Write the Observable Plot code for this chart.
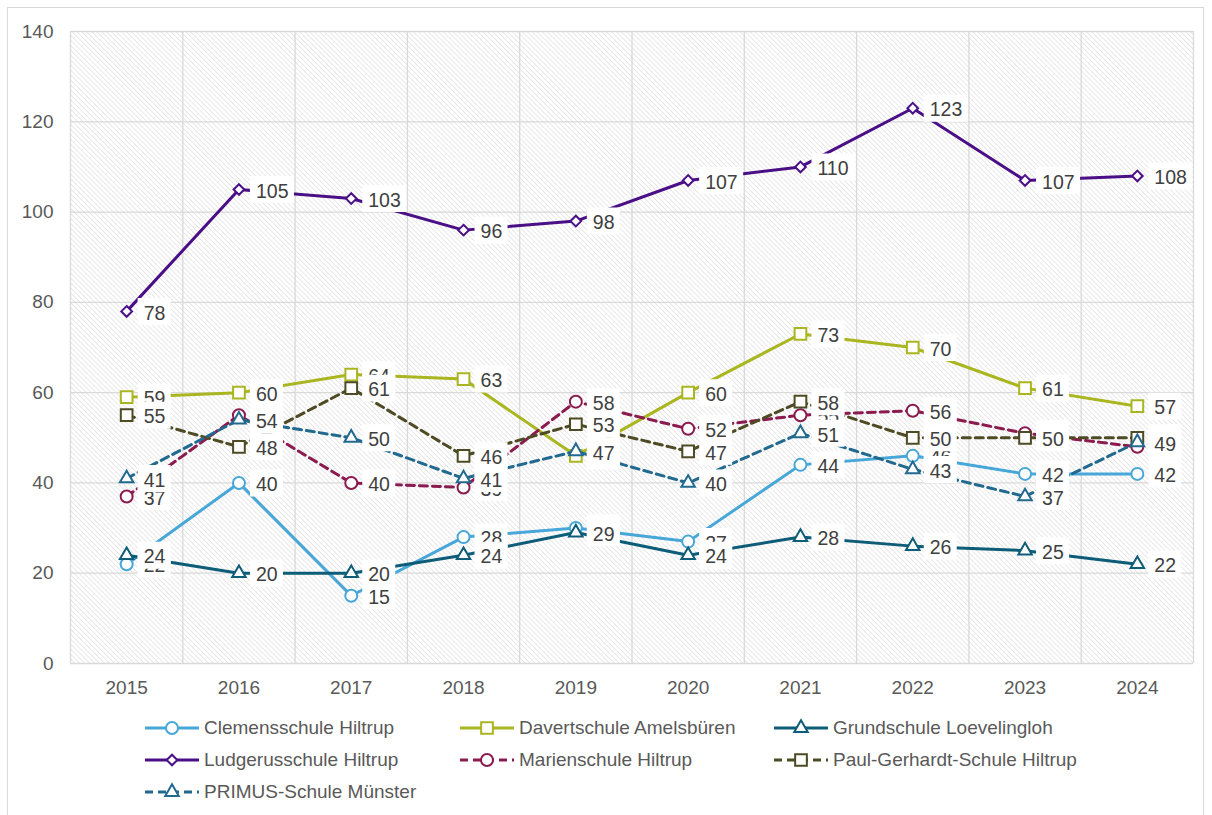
<!DOCTYPE html>
<html>
<head>
<meta charset="utf-8">
<script src="https://cdn.jsdelivr.net/npm/d3@7"></script>
<script src="https://cdn.jsdelivr.net/npm/@observablehq/plot@0.6"></script>
<style>
  html, body { margin: 0; padding: 0; background: #fff; }
  body { width: 1212px; height: 815px; position: relative; overflow: hidden; font-family: "Liberation Sans", Arial, sans-serif; }
  #border { position: absolute; left: 7px; top: 7px; width: 1197px; height: 840px; border: 1px solid #d9d9d9; box-sizing: border-box; }
  #chart { position: absolute; left: 0; top: 0; }
  #legend { position: absolute; left: 0; top: 0; width: 1212px; height: 815px; pointer-events: none; }
  .item { position: absolute; display: flex; align-items: center; height: 24px; font-size: 19px; color: #595959; white-space: nowrap; }
  .item svg { margin-right: 5px; }
</style>
</head>
<body>
<div id="border"></div>
<div id="chart"></div>
<div id="legend"></div>
<script>
// ---- data ----
const years = [2015, 2016, 2017, 2018, 2019, 2020, 2021, 2022, 2023, 2024];
const yTicks = [0, 20, 40, 60, 80, 100, 120, 140];
const seriesNames = [
  "Clemensschule Hiltrup",
  "Davertschule Amelsbüren",
  "Grundschule Loevelingloh",
  "Ludgerusschule Hiltrup",
  "Marienschule Hiltrup",
  "Paul-Gerhardt-Schule Hiltrup",
  "PRIMUS-Schule Münster"
];
const clemens      = [22, 40, 15, 28, 30, 27, 44, 46, 42, 42];
const davert       = [59, 60, 64, 63, 46, 60, 73, 70, 61, 57];
const grundschule  = [24, 20, 20, 24, 29, 24, 28, 26, 25, 22];
const ludgerus     = [78, 105, 103, 96, 98, 107, 110, 123, 107, 108];
const marien       = [37, 55, 40, 39, 58, 52, 55, 56, 51, 48];
const paulGerhardt = [55, 48, 61, 46, 53, 47, 58, 50, 50, 50];
const primus       = [41, 54, 50, 41, 47, 40, 51, 43, 37, 49];
const seriesValues = [clemens, davert, grundschule, ludgerus, marien, paulGerhardt, primus];

// ---- styles ----
const seriesColors = ["#48A7D9", "#A9B620", "#0D5C78", "#4A0E86", "#8B1A4E", "#4D4A24", "#22698F"];
const seriesDashed = [false, false, false, false, true, true, true];
const seriesSymbols = ["circle", "square", "triangle", "diamond2", "circle", "square", "triangle"];
const symbolR = {circle: 6, square: 6.6, triangle: 5, diamond2: 4.8};
const dashPattern = "8,5";

const series = seriesNames.map((name, i) => ({
  name, color: seriesColors[i], dashed: seriesDashed[i], symbol: seriesSymbols[i],
  data: years.map((year, j) => ({series: name, year, value: seriesValues[i][j]}))
}));

const boundaries = years.map(y => y - 0.5).concat([years[years.length - 1] + 0.5]);

function boxSymbol(w) {
  return {
    draw(ctx) {
      ctx.moveTo(11, -13.5);
      ctx.lineTo(11 + w, -13.5);
      ctx.lineTo(11 + w, 13.5);
      ctx.lineTo(11, 13.5);
      ctx.closePath();
    }
  };
}
const box2 = boxSymbol(33);
const box3 = boxSymbol(44);

const marks = [
  Plot.frame({fill: "url(#hatch)", stroke: "none"}),
  Plot.ruleX(boundaries, {stroke: "#d9d9d9", strokeWidth: 1.3}),
  Plot.ruleY(yTicks, {stroke: "#d9d9d9", strokeWidth: 1.3}),
  Plot.axisY(yTicks, {tickSize: 0, tickPadding: 17, fontSize: 19, fill: "#595959", label: null}),
  Plot.axisX(years, {tickSize: 0, tickPadding: 17, fontSize: 19, fill: "#595959", label: null, tickFormat: d => String(d)})
];

for (const s of series) {
  marks.push(Plot.line(s.data, {
    x: "year", y: "value", stroke: s.color, strokeWidth: 3,
    strokeDasharray: s.dashed ? dashPattern : null, strokeLinejoin: "round"
  }));
  marks.push(Plot.dot(s.data, {
    x: "year", y: "value", symbol: s.symbol, r: symbolR[s.symbol],
    fill: "white", stroke: s.color, strokeWidth: 2
  }));
}

for (const s of series) {
  marks.push(Plot.dot(s.data.filter(d => d.value < 100), {x: "year", y: "value", symbol: box2, r: 1, fill: "white", stroke: "none"}));
  marks.push(Plot.dot(s.data.filter(d => d.value >= 100), {x: "year", y: "value", symbol: box3, r: 1, fill: "white", stroke: "none"}));
  marks.push(Plot.text(s.data, {
    x: "year", y: "value", text: d => String(d.value), textAnchor: "start",
    dx: 17, dy: 2, fill: "#404040", fontSize: 19.5
  }));
}

const chart = Plot.plot({
  width: 1212,
  height: 700,
  marginLeft: 70,
  marginRight: 19,
  marginTop: 31,
  marginBottom: 37,
  style: {fontFamily: "'Liberation Sans', Arial, sans-serif", background: "transparent", color: "#595959"},
  x: {type: "linear", domain: [boundaries[0], boundaries[boundaries.length - 1]]},
  y: {domain: [yTicks[0], yTicks[yTicks.length - 1]]},
  marks
});

// hatch pattern
const ns = "http://www.w3.org/2000/svg";
const defs = document.createElementNS(ns, "defs");
defs.innerHTML = `<pattern id="hatch" patternUnits="userSpaceOnUse" width="3.5" height="3.5" patternTransform="rotate(-45)">
  <rect width="3.5" height="3.5" fill="#ffffff"/>
  <line x1="0" y1="0" x2="0" y2="3.5" stroke="#d6d6d6" stroke-width="1.1"/>
</pattern>`;
chart.insertBefore(defs, chart.firstChild);
document.getElementById("chart").appendChild(chart);

// legend
const legendCols = [145, 460, 774];
const legendRows = [728, 760, 792];
const legend = d3.select("#legend");
series.forEach((s, i) => {
  const col = i % 3, row = Math.floor(i / 3);
  const item = legend.append("div").attr("class", "item")
    .style("left", legendCols[col] + "px")
    .style("top", (legendRows[row] - 12) + "px");
  const svg = item.append("svg").attr("width", 54).attr("height", 24);
  svg.append("line").attr("x1", 0).attr("x2", 54).attr("y1", 12).attr("y2", 12)
    .attr("stroke", s.color).attr("stroke-width", 3)
    .attr("stroke-dasharray", s.dashed ? dashPattern : null);
  const r = symbolR[s.symbol];
  const sym = d3.symbol().type({circle: d3.symbolCircle, square: d3.symbolSquare, triangle: d3.symbolTriangle, diamond2: d3.symbolDiamond2}[s.symbol]).size(Math.PI * r * r);
  svg.append("path").attr("d", sym()).attr("transform", "translate(27,12)")
    .attr("fill", "white").attr("stroke", s.color).attr("stroke-width", 2);
  item.append("span").text(s.name);
});
</script>
</body>
</html>
